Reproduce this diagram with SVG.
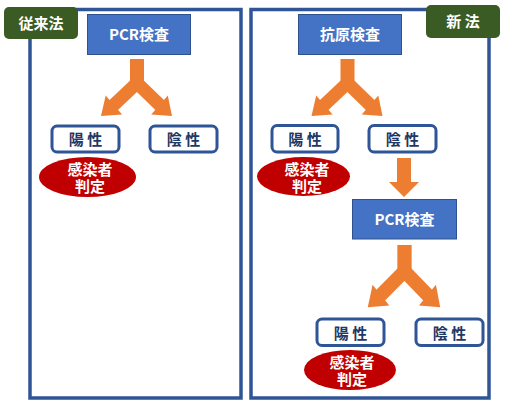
<svg xmlns="http://www.w3.org/2000/svg" xmlns:xlink="http://www.w3.org/1999/xlink" width="508" height="404" viewBox="0 0 508 404">
<style>
.frame{fill:none;stroke:#2F5597;stroke-width:3.5}
.tag{fill:#3A5B24}
.tagt{fill:#fff;font:bold 15px "Noto Sans CJK JP","Liberation Sans",sans-serif;text-anchor:middle}
.test{fill:#4472C4;stroke:#2F528F;stroke-width:1}
.testt{fill:#fff;font:bold 15px "Noto Sans CJK JP","Liberation Sans",sans-serif;text-anchor:middle}
.res{fill:#fff;stroke:#2F5597;stroke-width:3}
.rest{fill:#1F3864;font:bold 15px "Noto Sans CJK JP","Liberation Sans",sans-serif;text-anchor:middle}
.judge{fill:#C00000}
.judget{fill:#fff;font:bold 15px "Noto Sans CJK JP","Liberation Sans",sans-serif;text-anchor:middle}
.arr{fill:#ED7D31}
.arrl{stroke:#ED7D31;stroke-width:13;fill:none}
</style>
<defs>
<g id="fork">
<rect class="arr" x="-7" y="0" width="14" height="30"/>
<line class="arrl" x1="0" y1="24" x2="-23.8" y2="46.5"/>
<polygon class="arr" points="-36,57 -14.9,55.4 -31.3,36.4"/>
<line class="arrl" x1="0" y1="24" x2="23.2" y2="46.5"/>
<polygon class="arr" points="35,57 14.2,55.4 30.8,36.4"/>
</g>
</defs>
<g id="frames">
<rect class="frame" x="30" y="9.5" width="211" height="388.5"/>
<rect class="frame" x="251" y="9.5" width="238" height="388.5"/>
</g>
<g id="tag-old">
<rect class="tag" x="4" y="7" width="74" height="32" rx="5"/>
<text class="tagt" x="41" y="29">従来法</text>
</g>
<g id="tag-new">
<rect class="tag" x="426" y="5" width="74" height="33" rx="5"/>
<text class="tagt" x="463" y="27">新 法</text>
</g>
<g id="connectors">
<use xlink:href="#fork" transform="translate(137,59)"/>
<use xlink:href="#fork" transform="translate(347.5,59)"/>
<use xlink:href="#fork" transform="translate(404.5,245) scale(1.02,1.09)"/>
<polygon class="arr" points="397,158 411,158 411,182 419,182 404,197 389,182 397,182"/>
</g>
<g id="pcr-old">
<rect class="test" x="87.5" y="14.5" width="103" height="40"/>
<text class="testt" x="139" y="40">PCR検査</text>
</g>
<g id="pos-old">
<rect class="res" x="52" y="126" width="67" height="26" rx="5"/>
<text class="rest" x="85.5" y="145">陽 性</text>
</g>
<g id="neg-old">
<rect class="res" x="150" y="126" width="67" height="26" rx="5"/>
<text class="rest" x="183.5" y="145">陰 性</text>
</g>
<g id="judge-old">
<ellipse class="judge" cx="87.5" cy="177" rx="48.5" ry="20"/>
<text class="judget" x="90" y="175">感染者<tspan x="90" y="192">判定</tspan></text>
</g>
<g id="antigen">
<rect class="test" x="298.5" y="14.5" width="103" height="40"/>
<text class="testt" x="350" y="40">抗原検査</text>
</g>
<g id="pos-new1">
<rect class="res" x="272" y="125.5" width="66" height="26.5" rx="5"/>
<text class="rest" x="305" y="145">陽 性</text>
</g>
<g id="neg-new1">
<rect class="res" x="369" y="125.5" width="67" height="26.5" rx="5"/>
<text class="rest" x="402.5" y="145">陰 性</text>
</g>
<g id="judge-new1">
<ellipse class="judge" cx="303.5" cy="176.5" rx="46.5" ry="19.5"/>
<text class="judget" x="307" y="175">感染者<tspan x="307" y="192">判定</tspan></text>
</g>
<g id="pcr-new">
<rect class="test" x="352.5" y="199.5" width="104" height="39.5"/>
<text class="testt" x="404.5" y="225">PCR検査</text>
</g>
<g id="pos-new2">
<rect class="res" x="317" y="319" width="67" height="26.5" rx="5"/>
<text class="rest" x="350.5" y="338.5">陽 性</text>
</g>
<g id="neg-new2">
<rect class="res" x="416" y="319" width="67" height="26.5" rx="5"/>
<text class="rest" x="449.5" y="338.5">陰 性</text>
</g>
<g id="judge-new2">
<ellipse class="judge" cx="350" cy="370" rx="46" ry="20"/>
<text class="judget" x="352" y="368">感染者<tspan x="352" y="385">判定</tspan></text>
</g>
</svg>
